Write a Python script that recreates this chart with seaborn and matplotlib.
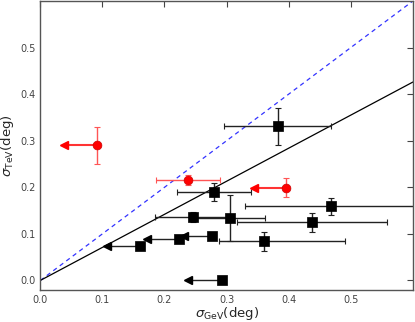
import numpy as np
import pandas as pd
import matplotlib
matplotlib.use("Agg")
import matplotlib.pyplot as plt
import seaborn as sns

# --- data ---
# black squares with two-sided error bars
sq_x = [0.382, 0.280, 0.246, 0.305, 0.468, 0.438, 0.361]
sq_y = [0.331, 0.190, 0.136, 0.134, 0.159, 0.125, 0.084]
sq_xerr_lo = [0.086, 0.060, 0.061, 0.057, 0.138, 0.122, 0.073]
sq_xerr_hi = [0.086, 0.060, 0.061, 0.057, 0.140, 0.120, 0.129]
sq_yerr = [0.040, 0.019, 0.010, 0.050, 0.019, 0.020, 0.020]

# black squares with upper limits in sigma_GeV (arrow to the left)
sqlim_x = [0.276, 0.223, 0.160, 0.292]
sqlim_y = [0.095, 0.090, 0.075, 0.000]
sqlim_arrow = [0.045, 0.051, 0.052, 0.054]

# red circles
red_x = [0.091, 0.238, 0.395]
red_y = [0.290, 0.216, 0.199]
red_xerr = [0.053, 0.052, 0.051]
red_yerr = [0.040, 0.010, 0.020]
red_is_limit = [True, False, True]

# reference lines
line_x = [0.0, 0.6]
slope_fit = 0.71
slope_equal = 1.0

xticks = [0.0, 0.1, 0.2, 0.3, 0.4, 0.5]
yticks = [0.0, 0.1, 0.2, 0.3, 0.4, 0.5]

sns.set_style("white")
plt.rcParams.update({
    "xtick.direction": "in", "ytick.direction": "in",
    "xtick.top": True, "ytick.right": True,
    "xtick.major.size": 4, "ytick.major.size": 4,
    "xtick.major.width": 0.8, "ytick.major.width": 0.8,
    "xtick.color": "#444444", "ytick.color": "#444444",
    "axes.edgecolor": "#555555", "axes.linewidth": 1.0,
})
plt.rcParams["font.family"] = ["DejaVu Sans"]

fig = plt.figure(figsize=(4.15, 3.22), dpi=100)
ax = fig.add_axes([0.097, 0.1, 0.898, 0.897])

# reference lines
ax.plot(line_x, [slope_equal * v for v in line_x], color="#3333ff", ls=(0, (3.5, 3)), lw=0.9, zorder=1)
ax.plot(line_x, [slope_fit * v for v in line_x], color="black", lw=0.9, zorder=1)

# black squares with error bars
ax.errorbar(sq_x, sq_y, xerr=[sq_xerr_lo, sq_xerr_hi], yerr=sq_yerr, fmt="none",
            ecolor="#222222", elinewidth=1.0, capsize=2.5, capthick=0.8, zorder=2)

# black upper limits: horizontal arrow lines + heads
lim_tip = [x - a for x, a in zip(sqlim_x, sqlim_arrow)]
for x0, x1, y in zip(sqlim_x, lim_tip, sqlim_y):
    ax.plot([x1, x0], [y, y], color="#222222", lw=1.0, zorder=2)
ax.plot(lim_tip, sqlim_y, ls="none", marker="<", ms=6, color="black", mec="black", zorder=3)

df_sq = pd.DataFrame({"x": sq_x + sqlim_x, "y": sq_y + sqlim_y})
sns.scatterplot(data=df_sq, x="x", y="y", marker="s", s=55, color="black",
                edgecolor="black", linewidth=0.5, ax=ax, zorder=4, legend=False)

# red points
for x, y, xe, ye, lim in zip(red_x, red_y, red_xerr, red_yerr, red_is_limit):
    ax.errorbar([x], [y], yerr=[ye], fmt="none", ecolor="#ff5555", elinewidth=1.0,
                capsize=2.5, capthick=0.8, zorder=2)
    if lim:
        ax.plot([x - xe, x], [y, y], color="#ff3333", lw=1.5, zorder=2)
        ax.plot([x - xe], [y], ls="none", marker="<", ms=6, color="red", zorder=3)
    else:
        ax.errorbar([x], [y], xerr=[xe], fmt="none", ecolor="#ff5555", elinewidth=1.0,
                    capsize=2.5, capthick=0.8, zorder=2)

df_red = pd.DataFrame({"x": red_x, "y": red_y})
sns.scatterplot(data=df_red, x="x", y="y", marker="o", s=40, color="red",
                edgecolor="#cc0000", linewidth=0.5, ax=ax, zorder=4, legend=False)

ax.set_xlim(0.0, 0.6)
ax.set_ylim(-0.02, 0.6)
ax.set_xticks(xticks)
ax.set_yticks(yticks)
ax.set_xticklabels([f"{t:.1f}" for t in xticks], fontsize=7)
ax.set_yticklabels([f"{t:.1f}" for t in yticks], fontsize=7)
ax.set_xlabel(r"$\sigma_{\rm GeV}(\rm deg)$", fontsize=9.5, labelpad=0)
ax.set_ylabel(r"$\sigma_{\rm TeV}(\rm deg)$", fontsize=9.5, labelpad=3)

fig.savefig("out.png", dpi=100)
